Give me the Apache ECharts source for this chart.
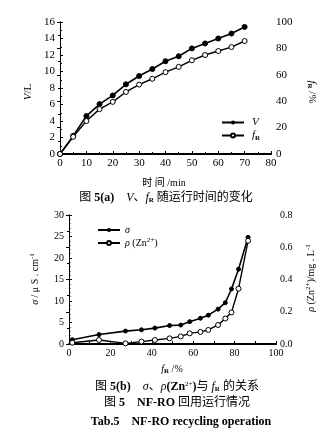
<!DOCTYPE html>
<html><head><meta charset="utf-8">
<script src="https://cdn.jsdelivr.net/npm/echarts@6/dist/echarts.min.js"></script>
<style>html,body{margin:0;padding:0;background:#fff}#c{width:331px;height:434px}</style>
</head><body><div id="c"></div>
<script>
// ---- Chart (a): V and f_R versus time ----
const timeMin = [0, 5, 10, 15, 20, 25, 30, 35, 40, 45, 50, 55, 60, 65, 70];
const volumeL = [0, 2.2, 4.6, 6.05, 7.1, 8.45, 9.45, 10.3, 11.25, 11.85, 12.8, 13.4, 14.0, 14.6, 15.4];
const recoveryPct = [0, 13, 25, 34, 39.5, 47, 52.6, 57, 62, 66, 71, 75, 78, 81, 85.6];
// ---- Chart (b): sigma and rho(Zn2+) versus f_R ----
const fR = [1.6, 14.5, 27.3, 35, 41.5, 48.6, 54, 58.3, 63.5, 67.3, 72, 75.5, 78.5, 81.9, 86.5];
const sigma = [1.0, 2.2, 3.0, 3.3, 3.7, 4.3, 4.4, 5.2, 6.0, 6.7, 8.1, 9.6, 12.8, 17.4, 24.8];
const rhoZn = [0.008, 0.025, 0.004, 0.015, 0.025, 0.035, 0.047, 0.066, 0.075, 0.087, 0.118, 0.158, 0.196, 0.343, 0.64];
// tick settings
const xTicksA = {min: 0, max: 80, interval: 10};
const yLeftA = {min: 0, max: 16, interval: 2};
const yRightA = {min: 0, max: 100, interval: 20};
const xTicksB = {min: 0, max: 100, interval: 10};
const yLeftB = {min: 0, max: 30, interval: 5};
const yRightB = {min: 0, max: 0.8, interval: 0.2};

const SERIF = '"Liberation Serif","DejaVu Serif","Noto Sans CJK SC",serif';
const chart = echarts.init(document.getElementById('c'), null, {renderer: 'canvas'});

const rich = {
  i: {fontStyle: 'italic', fontFamily: SERIF},
  b: {fontWeight: 'bold', fontFamily: SERIF},
  t: {fontFamily: SERIF},
  sub: {fontSize: 7, fontFamily: SERIF, fontWeight: 'bold', padding: [5, 0, 0, 0]},
  sup: {fontSize: 7, fontFamily: SERIF, padding: [0, 0, 5, 0]}
};
function richSized(sz) {
  const r = {};
  for (const k in rich) r[k] = Object.assign({}, rich[k], k === 'sub' || k === 'sup' ? {} : {fontSize: sz});
  return r;
}

function axisBase(extra) {
  return Object.assign({
    type: 'value',
    splitLine: {show: false},
    axisLine: {show: true, lineStyle: {color: '#000', width: 1}},
    axisTick: {show: true, inside: true, length: 3, lineStyle: {color: '#000'}},
    minorTick: {show: true, splitNumber: 2, length: 2, lineStyle: {color: '#000'}},
    axisLabel: {color: '#000', fontFamily: SERIF, fontSize: 11}
  }, extra);
}

const series = [
  {name: 'V', type: 'line', xAxisIndex: 0, yAxisIndex: 0,
   data: timeMin.map((t, i) => [t, volumeL[i]]),
   symbol: 'circle', symbolSize: 5, lineStyle: {color: '#000', width: 1.6},
   itemStyle: {color: '#000', borderColor: '#000'}},
  {name: 'f', type: 'line', xAxisIndex: 0, yAxisIndex: 1,
   data: timeMin.map((t, i) => [t, recoveryPct[i]]),
   symbol: 'circle', symbolSize: 5, lineStyle: {color: '#000', width: 1.4},
   itemStyle: {color: '#fff', borderColor: '#000', borderWidth: 1}},
  {name: 'σ', type: 'line', xAxisIndex: 2, yAxisIndex: 2,
   data: fR.map((x, i) => [x, sigma[i]]),
   symbol: 'circle', symbolSize: 4, lineStyle: {color: '#000', width: 1.6},
   itemStyle: {color: '#000', borderColor: '#000'}},
  {name: 'ρ', type: 'line', xAxisIndex: 2, yAxisIndex: 3,
   data: fR.map((x, i) => [x, rhoZn[i]]),
   symbol: 'circle', symbolSize: 5, lineStyle: {color: '#000', width: 1.4},
   itemStyle: {color: '#fff', borderColor: '#000', borderWidth: 1}}
];

function txt(x, y, text, size, rot, extra) {
  return {type: 'text', x: x, y: y, rotation: rot || 0, silent: true,
    style: Object.assign({text: text, fill: '#000', fontSize: size, fontFamily: SERIF,
      align: 'center', verticalAlign: 'middle', rich: richSized(size)}, extra || {})};
}

const option = {
  animation: false,
  backgroundColor: '#fff',
  grid: [
    {left: 60, top: 22, width: 211, height: 132},
    {left: 69, top: 215, width: 207, height: 129}
  ],
  xAxis: [
    axisBase(Object.assign({gridIndex: 0, position: 'bottom',
      axisLine: {show: true, lineStyle: {color: '#000', width: 2}},
      axisLabel: {color: '#000', fontFamily: SERIF, fontSize: 11, margin: 4}}, xTicksA)),
    axisBase(Object.assign({gridIndex: 0, position: 'top',
      axisLine: {show: true, lineStyle: {color: '#000', width: 2}},
      axisTick: {show: false}, minorTick: {show: false}, axisLabel: {show: false}}, xTicksA)),
    axisBase(Object.assign({gridIndex: 1, position: 'bottom',
      axisLine: {show: true, lineStyle: {color: '#000', width: 2}},
      minorTick: {show: false},
      axisLabel: {color: '#000', fontFamily: SERIF, fontSize: 10, margin: 4,
        formatter: v => (v % 20 === 0 ? String(v) : '')}}, xTicksB)),
    axisBase(Object.assign({gridIndex: 1, position: 'top',
      axisTick: {show: false}, minorTick: {show: false}, axisLabel: {show: false}}, xTicksB))
  ],
  yAxis: [
    axisBase(Object.assign({gridIndex: 0, position: 'left',
      axisLabel: {color: '#000', fontFamily: SERIF, fontSize: 11, margin: 5}}, yLeftA)),
    axisBase(Object.assign({gridIndex: 0, position: 'right',
      axisLabel: {color: '#000', fontFamily: SERIF, fontSize: 11, margin: 5}}, yRightA)),
    axisBase(Object.assign({gridIndex: 1, position: 'left',
      minorTick: {show: true, splitNumber: 5, length: 1.5, lineStyle: {color: '#000'}},
      axisLabel: {color: '#000', fontFamily: SERIF, fontSize: 10, margin: 5}}, yLeftB)),
    axisBase(Object.assign({gridIndex: 1, position: 'right',
      axisLabel: {color: '#000', fontFamily: SERIF, fontSize: 10, margin: 4,
        formatter: v => v.toFixed(1)}}, yRightB))
  ],
  legend: [
    {data: ['V', 'f'], left: 216, top: 112, orient: 'vertical', itemWidth: 22, itemHeight: 5, itemGap: 2,
     textStyle: {fontSize: 11, fontFamily: SERIF, color: '#000', padding: [0, 0, 0, 3], rich: richSized(11)},
     formatter: n => (n === 'V' ? '{i|V}' : '{i|f}{sub|R}')},
    {data: ['σ', 'ρ'], left: 92, top: 220, orient: 'vertical', itemWidth: 22, itemHeight: 5, itemGap: 2,
     textStyle: {fontSize: 10, fontFamily: SERIF, color: '#000', padding: [0, 0, 0, 0], rich: richSized(10)},
     formatter: n => (n === 'σ' ? '{i|σ}' : '{i|ρ} {t|(Zn}{sup|2+}{t|)}')}
  ],
  series: series,
  graphic: [
    txt(28, 92, '{i|V}{t|/L}', 11, Math.PI / 2),
    txt(312, 92, '{i|f}{sub|R}{t| /%}', 11, -Math.PI / 2),
    txt(164, 183, '{t|时 间 /min}', 10),
    txt(166, 198, '{t|图 }{b|5(a)}{t|    }{i|V}{t|、}{i|f}{sub|R}{t| 随运行时间的变化}', 12),
    txt(35, 279, '{i|σ}{t| / μ S . cm}{sup|-1}', 10, Math.PI / 2),
    txt(311, 278, '{i|ρ}{t| (Zn}{sup|2+}{t|)/mg . L}{sup|-1}', 10, Math.PI / 2),
    txt(172, 369, '{i|f}{sub|R}{t| /%}', 10),
    txt(177, 387, '{t|图 }{b|5(b)}{t|    }{i|σ}{t|、}{i|ρ}{b|(Zn}{sup|2+}{b|)}{t|与 }{i|f}{sub|R}{t| 的关系}', 12),
    txt(177, 403, '{t|图 }{b|5}{t|    }{b|NF-RO}{t| 回用运行情况}', 12),
    txt(181, 422, '{b|Tab.5    NF-RO recycling operation}', 12)
  ]
};
chart.setOption(option);
</script>
</body></html>
